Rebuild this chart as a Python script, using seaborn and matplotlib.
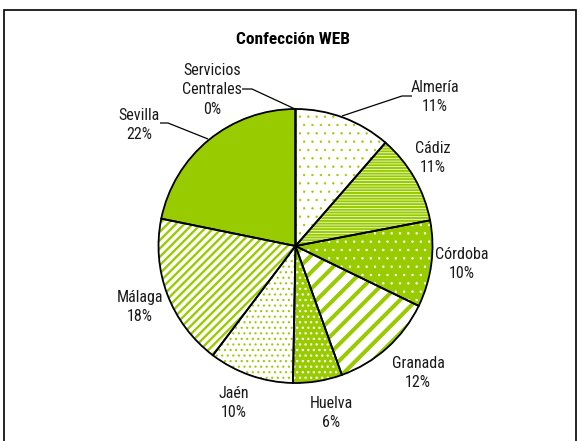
import matplotlib
matplotlib.use("Agg")
import matplotlib.pyplot as plt
import seaborn as sns
from matplotlib import font_manager
from matplotlib.patches import Rectangle

# ---- data ----
categories = ["Almería", "Cádiz", "Córdoba", "Granada", "Huelva", "Jaén",
              "Málaga", "Sevilla", "Servicios\nCentrales"]
shares = [11.4, 10.6, 10.2, 12.3, 5.8, 10.0, 17.9, 21.8, 0.0]
pct_labels = ["11%", "11%", "10%", "12%", "6%", "10%", "18%", "22%", "0%"]
title = "Confección WEB"

# ---- style ----
sns.set_theme(style="white")

# find condensed / narrow faces
def _wt(w):
    try:
        return int(w)
    except Exception:
        return {"bold": 700, "heavy": 800, "black": 900, "semibold": 600,
                "demibold": 600}.get(str(w).lower(), 400)

narrow = {}
for f in font_manager.fontManager.ttflist:
    nm = f.name
    if "narrow" in nm.lower() or "condensed" in nm.lower():
        narrow.setdefault(nm, []).append(_wt(f.weight))
pref = ["Liberation Sans Narrow", "Arial Narrow", "Roboto Condensed",
        "Open Sans Condensed", "Noto Sans Condensed"]
ordered = [p for p in pref if p in narrow] + sorted(n for n in narrow if n not in pref)
label_family = ordered[0] if ordered else None
bold_family = None
for n in ordered:
    if max(narrow[n]) >= 600:
        bold_family = n
        break

if label_family:
    plt.rcParams["font.family"] = [label_family, "DejaVu Sans"]
    LBL_FS = 11.5
else:
    plt.rcParams["font.family"] = ["Liberation Sans", "DejaVu Sans"]
    LBL_FS = 10
if bold_family:
    TTL_FAM, TTL_FS = [bold_family, "DejaVu Sans"], 12.5
else:
    TTL_FAM, TTL_FS = ["Liberation Sans", "DejaVu Sans"], 10.5

GREEN = "#99CC00"
WHITE = "#FFFFFF"
# (face, hatch, hatch colour, hatch linewidth)
styles = [
    (WHITE, "..", GREEN, 0.45),      # Almería
    (WHITE, "------", GREEN, 1.5),   # Cádiz
    (GREEN, "..", WHITE, 0.5),       # Córdoba
    (WHITE, "//", GREEN, 2.9),       # Granada
    (GREEN, "...", WHITE, 0.9),      # Huelva
    (WHITE, "...", GREEN, 0.8),      # Jaén
    (WHITE, "////", GREEN, 1.7),     # Málaga
    (GREEN, None, GREEN, 1.0),       # Sevilla
    (GREEN, None, GREEN, 1.0),       # Servicios Centrales
]

W, H, DPI = 579, 441, 100
fig = plt.figure(figsize=(W / DPI, H / DPI), dpi=DPI)
fig.patch.set_facecolor("white")

# pie geometry in pixels
cx, cy, R = 295.5, 246.0, 137.0
half = 220.0
ax = fig.add_axes([(cx - half) / W, (H - cy - half) / H, 2 * half / W, 2 * half / H])
lim = half / R

def px(x, y):
    return ((x - cx) / R, (cy - y) / R)

# fill layer (hatches)
wedges, _ = ax.pie(shares, startangle=90, counterclock=False, radius=1.0,
                   wedgeprops=dict(linewidth=0))
for w, (face, hatch, hcol, hlw) in zip(wedges, styles):
    w.set_facecolor(face)
    w.set_edgecolor(hcol)
    w.set_linewidth(0)
    if hatch:
        w.set_hatch(hatch)
        if hasattr(w, "set_hatch_linewidth"):
            w.set_hatch_linewidth(hlw)

# outline layer
wedges2, _ = ax.pie(shares, startangle=90, counterclock=False, radius=1.0,
                    wedgeprops=dict(facecolor="none", edgecolor="black", linewidth=1.3))

ax.set_xlim(-lim, lim)
ax.set_ylim(-lim, lim)
ax.set_axis_off()

# labels (layout positions in pixels)
label_pos = [(435, 97), (433, 158), (462, 264), (418, 373), (331, 413),
             (234, 403), (140, 307), (139, 125), (212, 90)]
for cat, pct, (lx, ly) in zip(categories, pct_labels, label_pos):
    x, y = px(lx, ly)
    ax.text(x, y, f"{cat}\n{pct}", ha="center", va="center", fontsize=LBL_FS,
            linespacing=1.4, color="#1a1a1a")

# leader lines
leaders = [
    [(412, 96), (402, 96), (342, 116)],   # Almería
    [(160, 123), (168, 123), (208, 139)], # Sevilla
    [(242, 89), (252, 89), (295, 109)],   # Servicios Centrales
]
for pts in leaders:
    xs, ys = zip(*[px(a, b) for a, b in pts])
    ax.plot(xs, ys, color="black", linewidth=0.9, solid_capstyle="butt")

fig.text(293 / W, 1 - 40 / H, title, ha="center", va="center",
         fontsize=TTL_FS, fontweight="bold", family=TTL_FAM, color="black")

# chart frame
fig.patches.append(Rectangle((4 / W, -0.05), (576 - 4) / W, 1.05 - 10.5 / H,
                             transform=fig.transFigure, fill=False,
                             edgecolor="black", linewidth=1.2))

fig.savefig("out.png", dpi=DPI, facecolor="white")
